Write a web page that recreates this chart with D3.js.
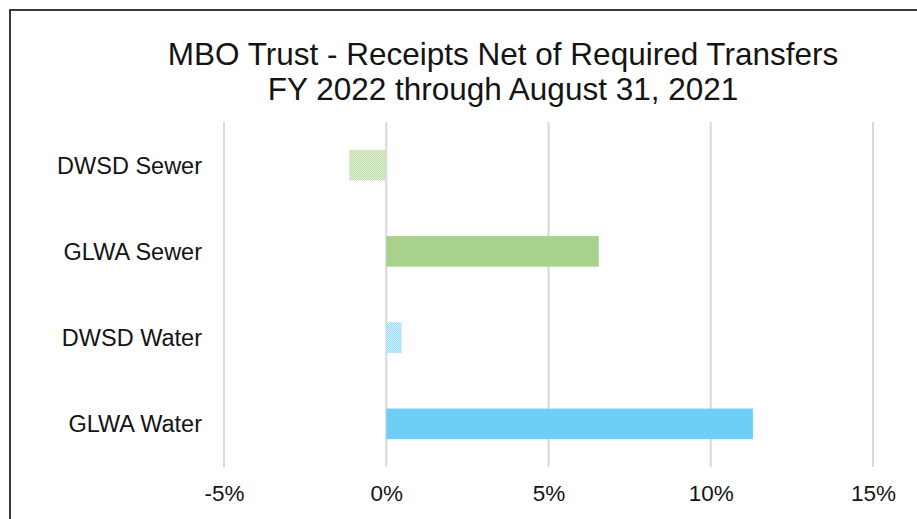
<!DOCTYPE html>
<html>
<head>
<meta charset="utf-8">
<script src="https://cdn.jsdelivr.net/npm/d3@7"></script>
<style>
  html, body { margin: 0; padding: 0; background: #fff; }
  svg { display: block; font-family: "Liberation Sans", Arial, sans-serif; }
</style>
</head>
<body>
<script>
const categories = ["DWSD Sewer", "GLWA Sewer", "DWSD Water", "GLWA Water"];
const values = [-1.14, 6.55, 0.47, 11.3];
const fills = ["greenPattern", "green", "bluePattern", "blue"];
const tickValues = [-5, 0, 5, 10, 15];
const titleLines = ["MBO Trust  - Receipts Net of Required Transfers", "FY 2022 through August  31, 2021"];

const W = 917, H = 519;
const svg = d3.select("body").append("svg").attr("width", W).attr("height", H);

const defs = svg.append("defs");
function pat(id, color, bg) {
  const p = defs.append("pattern").attr("id", id).attr("patternUnits", "userSpaceOnUse")
    .attr("width", 2).attr("height", 2);
  p.append("rect").attr("width", 2).attr("height", 2).attr("fill", bg);
  p.append("rect").attr("x", 0).attr("y", 0).attr("width", 1).attr("height", 1).attr("fill", color);
  p.append("rect").attr("x", 1).attr("y", 1).attr("width", 1).attr("height", 1).attr("fill", color);
}
pat("greenPattern", "#b9dca2", "#e6f2de");
pat("bluePattern", "#8fdaf8", "#d9f2fc");
const colorMap = { green: "#a9d18e", blue: "#6dcff6", greenPattern: "url(#greenPattern)", bluePattern: "url(#bluePattern)" };

// border
svg.append("path").attr("d", `M10,${H} L10,10 L${W},10`).attr("fill", "none")
  .attr("stroke", "#3a3a3a").attr("stroke-width", 2);

// title
const title = svg.append("text").attr("text-anchor", "middle").attr("font-size", 31.5).attr("fill", "#141414");
titleLines.forEach((t, i) => {
  title.append("tspan").attr("x", 503).attr("y", 65 + i * 35).text(t);
});

const x = d3.scaleLinear().domain([-5, 15]).range([224, 873]);
const y = d3.scaleBand().domain(categories).range([122, 467]).padding(0);

// gridlines
svg.append("g").selectAll("line").data(tickValues).join("line")
  .attr("x1", d => x(d)).attr("x2", d => x(d))
  .attr("y1", 122).attr("y2", 467)
  .attr("stroke", "#d9d9d9").attr("stroke-width", 2);

// bars
const bh = y.bandwidth() * 0.355;
svg.append("g").selectAll("rect").data(categories).join("rect")
  .attr("x", (d, i) => x(Math.min(0, values[i])))
  .attr("width", (d, i) => Math.abs(x(values[i]) - x(0)))
  .attr("y", d => y(d) + y.bandwidth() / 2 - bh / 2)
  .attr("height", bh)
  .attr("fill", (d, i) => colorMap[fills[i]]);

// x axis tick labels
const xAxis = d3.axisBottom(x).tickValues(tickValues).tickSize(0).tickPadding(0)
  .tickFormat(d => d + "%");
const gx = svg.append("g").attr("transform", "translate(0,485)").call(xAxis);
gx.select(".domain").remove();
gx.selectAll("text").attr("font-size", 22.5).attr("fill", "#141414")
  .attr("font-family", "Liberation Sans, Arial, sans-serif");

// y axis category labels
const yAxis = d3.axisLeft(y).tickSize(0).tickPadding(0);
const gy = svg.append("g").attr("transform", "translate(202,0)").call(yAxis);
gy.select(".domain").remove();
gy.selectAll("text").attr("font-size", 23.5).attr("fill", "#141414")
  .attr("dy", "0.36em")
  .attr("font-family", "Liberation Sans, Arial, sans-serif");
</script>
</body>
</html>
